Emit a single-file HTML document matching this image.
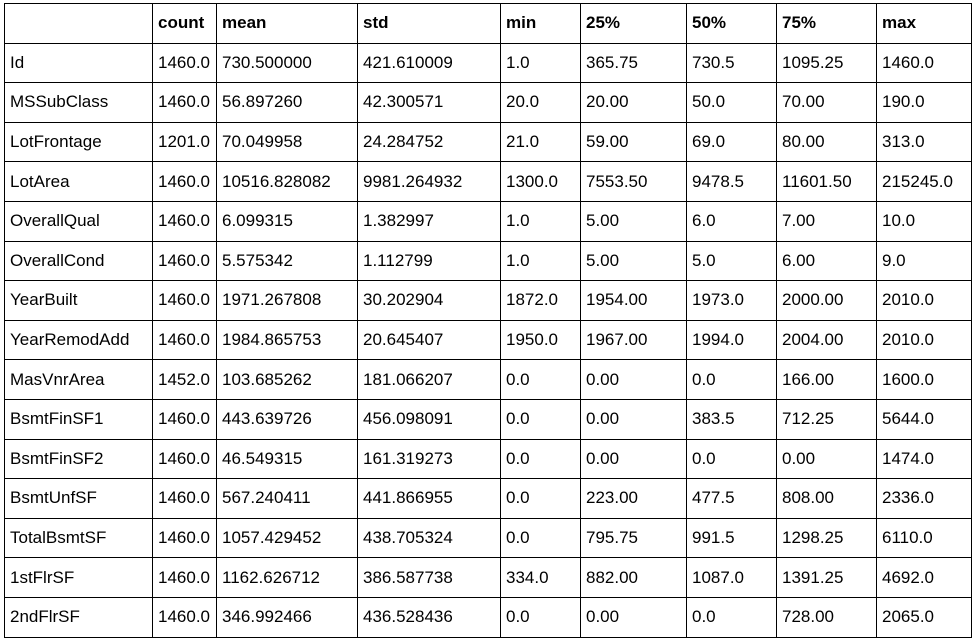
<!DOCTYPE html>
<html><head><meta charset="utf-8"><style>
body{margin:0;background:#fff;width:975px;height:641px;overflow:hidden}
table{position:absolute;left:4px;top:3px;border-collapse:collapse;font-family:"Liberation Sans",Arial,sans-serif;font-size:17px;color:#000;table-layout:fixed}
td,th{border:1.5px solid #000;height:38.6px;padding:0 0 0 5px;text-align:left;white-space:nowrap;overflow:hidden}
th{font-weight:bold}
</style></head><body>
<table>
<colgroup><col style="width:148px"><col style="width:64px"><col style="width:141px"><col style="width:143px"><col style="width:80px"><col style="width:106px"><col style="width:90px"><col style="width:100px"><col style="width:95px"></colgroup>
<tbody id="tb"></tbody>
</table>
<script>
const headers=["","count","mean","std","min","25%","50%","75%","max"];
const rows=[
["Id","1460.0","730.500000","421.610009","1.0","365.75","730.5","1095.25","1460.0"],
["MSSubClass","1460.0","56.897260","42.300571","20.0","20.00","50.0","70.00","190.0"],
["LotFrontage","1201.0","70.049958","24.284752","21.0","59.00","69.0","80.00","313.0"],
["LotArea","1460.0","10516.828082","9981.264932","1300.0","7553.50","9478.5","11601.50","215245.0"],
["OverallQual","1460.0","6.099315","1.382997","1.0","5.00","6.0","7.00","10.0"],
["OverallCond","1460.0","5.575342","1.112799","1.0","5.00","5.0","6.00","9.0"],
["YearBuilt","1460.0","1971.267808","30.202904","1872.0","1954.00","1973.0","2000.00","2010.0"],
["YearRemodAdd","1460.0","1984.865753","20.645407","1950.0","1967.00","1994.0","2004.00","2010.0"],
["MasVnrArea","1452.0","103.685262","181.066207","0.0","0.00","0.0","166.00","1600.0"],
["BsmtFinSF1","1460.0","443.639726","456.098091","0.0","0.00","383.5","712.25","5644.0"],
["BsmtFinSF2","1460.0","46.549315","161.319273","0.0","0.00","0.0","0.00","1474.0"],
["BsmtUnfSF","1460.0","567.240411","441.866955","0.0","223.00","477.5","808.00","2336.0"],
["TotalBsmtSF","1460.0","1057.429452","438.705324","0.0","795.75","991.5","1298.25","6110.0"],
["1stFlrSF","1460.0","1162.626712","386.587738","334.0","882.00","1087.0","1391.25","4692.0"],
["2ndFlrSF","1460.0","346.992466","436.528436","0.0","0.00","0.0","728.00","2065.0"]];
const tb=document.getElementById('tb');
const hr=document.createElement('tr');


headers.forEach(h=>{const th=document.createElement('th');th.textContent=h;


hr.appendChild(th);});
tb.appendChild(hr);
rows.forEach(r=>{const tr=document.createElement('tr');


r.forEach(v=>{const td=document.createElement('td');td.textContent=v;


tr.appendChild(td);});tb.appendChild(tr);});
</script>
</body></html>
